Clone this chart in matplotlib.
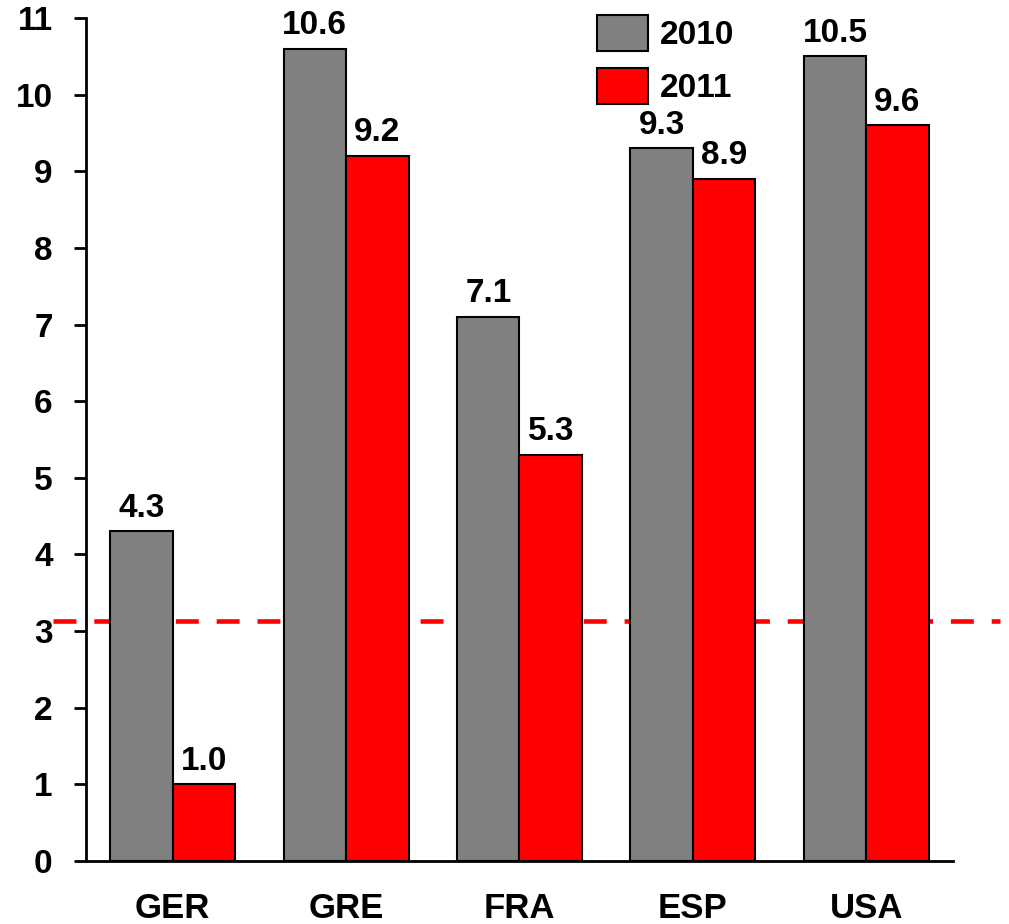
import numpy as np
import matplotlib.pyplot as plt

countries = ['GER', 'GRE', 'FRA', 'ESP', 'USA']
vals_2010 = [4.3, 10.6, 7.1, 9.3, 10.5]
vals_2011 = [1.0, 9.2, 5.3, 8.9, 9.6]
threshold = 3.13

plt.rcParams['font.family'] = ['Liberation Sans', 'DejaVu Sans']
plt.rcParams['font.weight'] = 'bold'

fig = plt.figure(figsize=(10.09, 9.24), dpi=100)
ax = fig.add_axes([0.0852, 0.0682, 0.8593, 0.9123])

x = np.arange(len(countries))
w = 0.36
b1 = ax.bar(x - w / 2, vals_2010, w, color='#808080', edgecolor='black',
            linewidth=1.5, label='2010', zorder=3)
b2 = ax.bar(x + w / 2, vals_2011, w, color='#ff0000', edgecolor='black',
            linewidth=1.5, label='2011', zorder=3)

for bars, vals in ((b1, vals_2010), (b2, vals_2011)):
    for r, v in zip(bars, vals):
        ax.text(r.get_x() + r.get_width() / 2, v + 0.1, f'{v:.1f}',
                ha='center', va='bottom', fontsize=24, fontweight='bold')

# dashed reference level, runs past both ends of the axis
ax.plot([-0.69, 4.77], [threshold, threshold], color='#ff0000', lw=3.3,
        dashes=(5, 3.9), clip_on=False, zorder=1)

ax.set_xlim(-0.5, 4.5)
ax.set_ylim(0, 11)
ax.set_yticks(range(0, 12))
ax.set_xticks(x)
ax.set_xticklabels(countries)
ax.tick_params(axis='y', direction='out', length=9, width=2, labelsize=24, pad=15)
ax.tick_params(axis='x', length=0, labelsize=25, pad=22)
for s in ('top', 'right'):
    ax.spines[s].set_visible(False)
for s in ('left', 'bottom'):
    ax.spines[s].set_linewidth(2)

ax.legend(loc='upper left', bbox_to_anchor=(0.589, 1.004), frameon=False,
          fontsize=24, handlelength=1.55, handleheight=1.3, handletextpad=0.36,
          labelspacing=0.5, borderaxespad=0, borderpad=0)

fig.savefig('out.png', dpi=100)
